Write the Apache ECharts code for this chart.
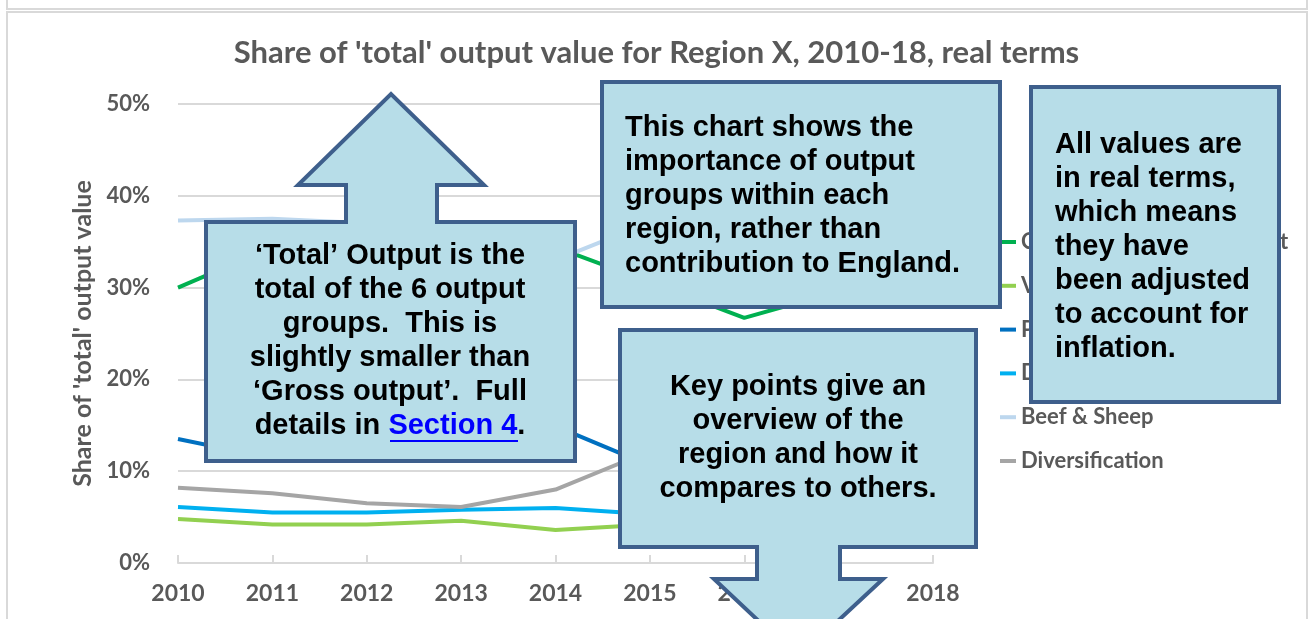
<!DOCTYPE html>
<html lang="en">
<head>
    <meta charset="UTF-8">
    <title>Share of 'total' output value for Region X</title>
    <script src="https://cdn.jsdelivr.net/npm/echarts@6.0.0/dist/echarts.min.js"></script>
    <style>
        html, body { margin: 0; padding: 0; background: #fff; }
        #chart { width: 1313px; height: 619px; }
    </style>
</head>
<body>
    <div id="chart"></div>
    <script>
        // years on the x axis
        const years = ['2010', '2011', '2012', '2013', '2014', '2015', '2016', '2017', '2018'];

        // share of total output (%); hidden parts estimated
        const cereals = [30.0, 34.4, 34.0, 35.0, 34.4, 30.6, 26.7, 29.6, 31.0];
        const vegFruit = [4.8, 4.2, 4.2, 4.6, 3.6, 4.2, 4.5, 4.1, 4.0];
        const pigsPoultry = [13.5, 11.4, 12.8, 13.5, 14.9, 10.6, 10.5, 10.5, 10.2];
        const dairy = [6.1, 5.5, 5.5, 5.8, 6.0, 5.3, 6.0, 5.8, 5.8];
        const beefSheep = [37.3, 37.5, 37.0, 35.0, 33.0, 37.1, 38.0, 36.5, 35.5];
        const diversification = [8.2, 7.6, 6.5, 6.1, 8.0, 12.2, 14.0, 13.5, 13.5];

        const seriesNames = ['Cereals & Industrial Output', 'Vegetables & Fruit', 'Pigs & Poultry', 'Dairy', 'Beef & Sheep', 'Diversification'];
        const seriesColors = ['#00b050', '#92d050', '#0070c0', '#00b0f0', '#bdd7ee', '#a5a5a5'];
        const seriesData = [cereals, vegFruit, pigsPoultry, dairy, beefSheep, diversification];

        const labelFont = 'Lato, "Open Sans", sans-serif';
        const boxFont = '"Liberation Sans", Arial, sans-serif';
        const boxFill = '#b7dde8';
        const boxStroke = '#3e5f8c';

        const chart = echarts.init(document.getElementById('chart'));

        function callout(points) {
            return {
                type: 'polygon',
                z: 100,
                shape: { points: points },
                style: { fill: boxFill, stroke: boxStroke, lineWidth: 4, lineJoin: 'miter' }
            };
        }

        function boxText(x, y, text, align) {
            return {
                type: 'text',
                z: 101,
                x: x,
                y: y,
                style: {
                    text: text,
                    fill: '#000',
                    font: 'bold 29px ' + boxFont,
                    lineHeight: 34,
                    align: align,
                    verticalAlign: 'middle'
                }
            };
        }

        const option = {
            backgroundColor: '#fff',
            animation: false,
            title: {
                text: "Share of 'total' output value for Region X, 2010-18, real terms",
                left: 'center',
                top: 32,
                textStyle: { fontFamily: labelFont, fontWeight: 'bold', fontSize: 31, color: '#595959' }
            },
            grid: { left: 178, right: 380, top: 104, bottom: 56 },
            legend: {
                orient: 'vertical',
                left: 1000,
                top: 231,
                padding: 0,
                icon: 'rect',
                itemWidth: 16,
                itemHeight: 4,
                itemGap: 21.8,
                data: seriesNames,
                textStyle: { fontFamily: labelFont, fontWeight: 'bold', fontSize: 22, color: '#595959', lineHeight: 20 }
            },
            xAxis: {
                type: 'category',
                data: years,
                boundaryGap: false,
                axisLine: { lineStyle: { color: '#d9d9d9', width: 2 } },
                axisTick: { inside: true, length: 8, lineStyle: { color: '#d9d9d9', width: 2 } },
                axisLabel: { margin: 19, fontFamily: labelFont, fontWeight: 'bold', fontSize: 23, color: '#595959' }
            },
            yAxis: {
                type: 'value',
                min: 0,
                max: 50,
                interval: 10,
                name: "Share of 'total' output value",
                nameLocation: 'middle',
                nameGap: 66,
                nameTextStyle: { fontFamily: labelFont, fontWeight: 'bold', fontSize: 25, color: '#595959' },
                axisLabel: { margin: 28, formatter: '{value}%', fontFamily: labelFont, fontWeight: 'bold', fontSize: 22, color: '#595959' },
                splitLine: { lineStyle: { color: '#d9d9d9', width: 2 } }
            },
            series: seriesNames.map((name, i) => ({
                name: name,
                type: 'line',
                data: seriesData[i],
                symbol: 'none',
                lineStyle: { color: seriesColors[i], width: 4 },
                itemStyle: { color: seriesColors[i] }
            })),
            graphic: [
                // frame around the chart
                { type: 'rect', z: 0, shape: { x: 7, y: -10, width: 1300, height: 19 }, style: { fill: 'none', stroke: '#d9d9d9', lineWidth: 2 } },
                { type: 'rect', z: 0, shape: { x: 7, y: 12, width: 1300, height: 620 }, style: { fill: 'none', stroke: '#d9d9d9', lineWidth: 2 } },
                // up arrow callout
                callout([[206, 222], [346, 222], [346, 185], [298, 185], [391, 94], [484, 185], [437, 185], [437, 222], [575, 222], [575, 461], [206, 461]]),
                {
                    type: 'text', z: 101, x: 390, y: 341,
                    style: {
                        text: "\u2018Total\u2019 Output is the\ntotal of the 6 output\ngroups.  This is\nslightly smaller than\n\u2018Gross output\u2019.  Full\ndetails in {link|Section 4}.",
                        fill: '#000',
                        font: 'bold 29px ' + boxFont,
                        lineHeight: 34,
                        align: 'center',
                        verticalAlign: 'middle',
                        rich: { link: { fill: '#0000ff', font: 'bold 29px ' + boxFont, lineHeight: 34 } }
                    }
                },
                { type: 'line', z: 101, shape: { x1: 390, y1: 441, x2: 518, y2: 441 }, style: { stroke: '#0000ff', lineWidth: 2 } },
                // top middle box
                callout([[602, 82], [1000, 82], [1000, 307], [602, 307]]),
                boxText(625, 196, 'This chart shows the\nimportance of output\ngroups within each\nregion, rather than\ncontribution to England.', 'left'),
                // right box
                callout([[1031, 87], [1279, 87], [1279, 402], [1031, 402]]),
                boxText(1055, 247, 'All values are\nin real terms,\nwhich means\nthey have\nbeen adjusted\nto account for\ninflation.', 'left'),
                // down arrow callout
                callout([[620, 330], [976, 330], [976, 547], [840, 547], [840, 579], [883, 579], [798, 658], [714, 579], [757, 579], [757, 547], [620, 547]]),
                boxText(798, 438, 'Key points give an\noverview of the\nregion and how it\ncompares to others.', 'center')
            ]
        };

        chart.setOption(option);
    </script>
</body>
</html>
